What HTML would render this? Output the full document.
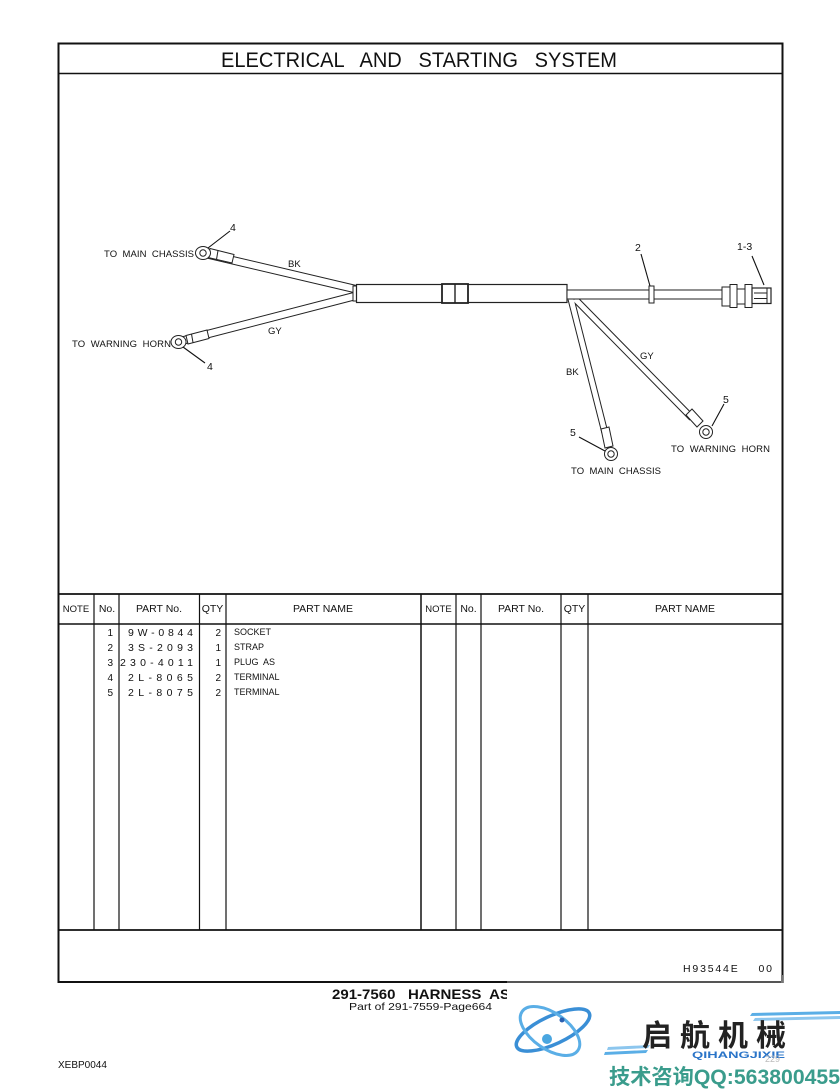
<!DOCTYPE html>
<html><head><meta charset="utf-8"><style>
html,body{margin:0;padding:0;background:#fff;}
svg{display:block;}
text{font-family:"Liberation Sans",Arial,sans-serif;fill:#111;white-space:pre;}
</style></head><body>
<svg width="840" height="1089" viewBox="0 0 840 1089" xmlns="http://www.w3.org/2000/svg" xml:space="preserve">
<rect x="0" y="0" width="840" height="1089" fill="#fff"/>
<!-- frame -->
<rect x="58.5" y="43.5" width="724" height="938.5" fill="none" stroke="#111" stroke-width="2"/>
<line x1="58" y1="73.5" x2="783" y2="73.5" stroke="#111" stroke-width="1.6"/>
<text x="221" y="67" font-size="21" textLength="396" lengthAdjust="spacingAndGlyphs">ELECTRICAL   AND   STARTING   SYSTEM</text>

<!-- table -->
<line x1="58" y1="594" x2="783" y2="594" stroke="#111" stroke-width="1.8"/>
<line x1="58" y1="624" x2="783" y2="624" stroke="#111" stroke-width="1.6"/>
<line x1="58" y1="930" x2="783" y2="930" stroke="#111" stroke-width="1.8"/>
<g stroke="#111" stroke-width="1.2">
<line x1="94" y1="594" x2="94" y2="930"/>
<line x1="119" y1="594" x2="119" y2="930"/>
<line x1="199.5" y1="594" x2="199.5" y2="930"/>
<line x1="226" y1="594" x2="226" y2="930"/>
<line x1="421" y1="594" x2="421" y2="930" stroke-width="1.5"/>
<line x1="456" y1="594" x2="456" y2="930"/>
<line x1="481" y1="594" x2="481" y2="930"/>
<line x1="561" y1="594" x2="561" y2="930"/>
<line x1="588" y1="594" x2="588" y2="930"/>
</g>
<g font-size="10.5" text-anchor="middle">
<text x="76" y="612" font-size="9.5">NOTE</text>
<text x="107" y="612">No.</text>
<text x="159" y="612">PART No.</text>
<text x="212.5" y="612">QTY</text>
<text x="323" y="612">PART NAME</text>
<text x="438.5" y="612" font-size="9.5">NOTE</text>
<text x="468.5" y="612">No.</text>
<text x="521" y="612">PART No.</text>
<text x="574.5" y="612">QTY</text>
<text x="685" y="612">PART NAME</text>
</g>
<g font-size="10" text-anchor="end">
<text x="113" y="636">1</text>
<text x="113" y="651">2</text>
<text x="113" y="666">3</text>
<text x="113" y="681">4</text>
<text x="113" y="696">5</text>
<text x="221" y="636">2</text>
<text x="221" y="651">1</text>
<text x="221" y="666">1</text>
<text x="221" y="681">2</text>
<text x="221" y="696">2</text>
</g>
<g font-size="10.5">
<text x="128" y="636" textLength="65" lengthAdjust="spacing">9W-0844</text>
<text x="128" y="651" textLength="65" lengthAdjust="spacing">3S-2093</text>
<text x="120" y="666" textLength="73" lengthAdjust="spacing">230-4011</text>
<text x="128" y="681" textLength="65" lengthAdjust="spacing">2L-8065</text>
<text x="128" y="696" textLength="65" lengthAdjust="spacing">2L-8075</text>
</g>
<g font-size="9">
<text x="234" y="635">SOCKET</text>
<text x="234" y="650">STRAP</text>
<text x="234" y="665">PLUG  AS</text>
<text x="234" y="680">TERMINAL</text>
<text x="234" y="695">TERMINAL</text>
</g>
<text x="683" y="972" font-size="10.5" textLength="89" lengthAdjust="spacing">H93544E    00</text>

<!-- harness: left wires -->
<g stroke-linecap="butt" fill="none">
<line x1="206" y1="254" x2="355" y2="289" stroke="#222" stroke-width="8.5"/>
<line x1="181" y1="341" x2="355" y2="296" stroke="#222" stroke-width="8.5"/>
<line x1="206" y1="254" x2="355" y2="289" stroke="#fff" stroke-width="6.5"/>
<line x1="181" y1="341" x2="355" y2="296" stroke="#fff" stroke-width="6.5"/>
<!-- right branches -->
<line x1="571" y1="299" x2="605" y2="433" stroke="#222" stroke-width="7"/>
<line x1="575" y1="299" x2="692" y2="418" stroke="#222" stroke-width="7"/>
<line x1="571" y1="299" x2="605" y2="433" stroke="#fff" stroke-width="5"/>
<line x1="575" y1="299" x2="692" y2="418" stroke="#fff" stroke-width="5"/>
</g>
<!-- sleeves left -->
<g stroke="#222" stroke-width="1" fill="#fff">
<polygon points="210,248.5 234,254.5 232,263 208,257.5"/>
<line x1="218" y1="250.5" x2="216.5" y2="259.5"/>
<polygon points="186,335.5 207,330 209,338.5 188,344"/>
<line x1="191.5" y1="334" x2="193" y2="342.5"/>
<!-- sleeves right -->
<polygon points="601,429 609,427 613,446 605,448"/>
<polygon points="686,415 692,409 703,421 697,427"/>
<!-- rings -->
<ellipse cx="203" cy="253" rx="7.5" ry="6.5"/>
<circle cx="203" cy="253" r="3.2"/>
<ellipse cx="178.5" cy="342" rx="7.5" ry="6.5"/>
<circle cx="178.5" cy="342" r="3.2"/>
<circle cx="611" cy="454" r="6.5"/>
<circle cx="611" cy="454" r="3.2"/>
<circle cx="706" cy="432" r="6.5"/>
<circle cx="706" cy="432" r="3.2"/>
</g>
<!-- main tube -->
<g stroke="#222" fill="#fff">
<rect x="353" y="286" width="4" height="15" stroke-width="1"/>
<rect x="356.5" y="284.5" width="210.5" height="18" stroke-width="1.2"/>
<rect x="442" y="284" width="26" height="19" stroke-width="1.8"/>
<line x1="455" y1="284" x2="455" y2="303" stroke-width="1.4"/>
<rect x="567" y="290" width="155" height="9" stroke-width="1"/>
<rect x="649" y="286" width="5" height="17" stroke-width="1"/>
<!-- connector -->
<rect x="722" y="287" width="8" height="19" stroke-width="1"/>
<rect x="730" y="284.5" width="7" height="23" stroke-width="1"/>
<rect x="737" y="289" width="8" height="15" stroke-width="1"/>
<rect x="745" y="284.5" width="7" height="23" stroke-width="1"/>
<rect x="752" y="288" width="19" height="15.5" stroke-width="1.2"/>
<line x1="754" y1="293" x2="767" y2="293" stroke-width="1"/>
<line x1="754" y1="298.5" x2="767" y2="298.5" stroke-width="1"/>
<line x1="767" y1="288" x2="767" y2="303.5" stroke-width="1"/>
</g>
<!-- leaders -->
<g stroke="#111" stroke-width="1.1">
<line x1="230" y1="231" x2="208" y2="248"/>
<line x1="183" y1="347" x2="205" y2="363"/>
<line x1="641" y1="254" x2="650" y2="286"/>
<line x1="752" y1="256" x2="764" y2="285"/>
<line x1="724" y1="404" x2="712" y2="426"/>
<line x1="579" y1="437" x2="605" y2="451"/>
</g>
<!-- labels -->
<g font-size="9.5">
<text x="104" y="257" textLength="90" lengthAdjust="spacing">TO  MAIN  CHASSIS</text>
<text x="72" y="347" textLength="99" lengthAdjust="spacing">TO  WARNING  HORN</text>
<text x="671" y="452" textLength="99" lengthAdjust="spacing">TO  WARNING  HORN</text>
<text x="571" y="474" textLength="90" lengthAdjust="spacing">TO  MAIN  CHASSIS</text>
<text x="288" y="267">BK</text>
<text x="268" y="334">GY</text>
<text x="640" y="359">GY</text>
<text x="566" y="375">BK</text>
<text x="230" y="231" font-size="10.5">4</text>
<text x="207" y="370" font-size="10.5">4</text>
<text x="635" y="251" font-size="10.5">2</text>
<text x="737" y="250" font-size="10.5">1-3</text>
<text x="723" y="403" font-size="10.5">5</text>
<text x="570" y="436" font-size="10.5">5</text>
</g>

<!-- footer -->
<text x="332" y="999" font-size="14" font-weight="bold" textLength="178" lengthAdjust="spacingAndGlyphs">291-7560   HARNESS  AS</text>
<text x="349" y="1010" font-size="10.5" textLength="143" lengthAdjust="spacingAndGlyphs">Part of 291-7559-Page664</text>
<text x="58" y="1068" font-size="10">XEBP0044</text>

<!-- watermark logo -->
<rect x="507" y="983" width="333" height="20" fill="#fff"/>
<line x1="507" y1="982" x2="783" y2="982" stroke="#999" stroke-width="1"/>
<line x1="782" y1="975" x2="782" y2="983" stroke="#777" stroke-width="2"/>
<g fill="none" stroke-linecap="round">
<ellipse cx="553" cy="1030" rx="40" ry="14" transform="rotate(-25 553 1030)" stroke="#3a8fd6" stroke-width="3.5"/>
<ellipse cx="550" cy="1031" rx="34" ry="18" transform="rotate(35 550 1031)" stroke="#5aaee6" stroke-width="3"/>
</g>
<circle cx="547" cy="1039" r="5" fill="#4aa6e0"/>
<circle cx="562" cy="1020" r="2.5" fill="#2a5fb0"/>
<polygon points="752,1013 840,1011 840,1014 750,1016" fill="#5aaee6"/>
<polygon points="755,1018 840,1016 840,1019 753,1021" fill="#8cc6ee"/>
<polygon points="605,1052 648,1050 646,1053 604,1055" fill="#5aaee6"/>
<polygon points="608,1047 650,1045 648,1048 607,1050" fill="#8cc6ee"/>
<text x="642" y="1046" font-size="30" font-weight="bold" style="font-family:'Liberation Sans','Noto Sans CJK SC',sans-serif;fill:#222" textLength="144" lengthAdjust="spacing">启航机械</text>
<text x="692" y="1058" font-size="9" font-weight="bold" style="fill:#2a74c8" textLength="93" lengthAdjust="spacingAndGlyphs">QIHANGJIXIE</text>
<text x="765" y="1062" font-size="9" style="fill:#bbb">229</text>
<text x="609" y="1084" font-size="21" font-weight="bold" style="font-family:'Liberation Sans','Noto Sans CJK SC',sans-serif;fill:#3a9c8c" textLength="231" lengthAdjust="spacingAndGlyphs">技术咨询QQ:563800455</text>
</svg>
</body></html>
